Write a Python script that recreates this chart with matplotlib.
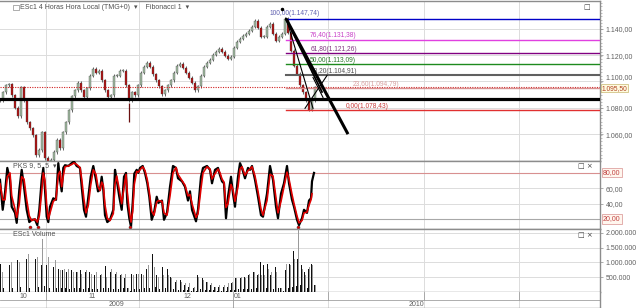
import numpy as np
import matplotlib as mpl
import matplotlib.pyplot as plt
from matplotlib.patches import Rectangle

mpl.rcParams['font.family'] = ['Liberation Sans', 'DejaVu Sans']
mpl.rcParams['font.size'] = 5

# ESc1 4h closes, one bar every 3 chart units
closes = [1085.7, 1091.7, 1097.0, 1097.7, 1089.4, 1080.0, 1073.6, 1095.5, 1085.7, 1069.1,
          1064.5, 1059.2, 1044.2, 1047.9, 1061.5, 1041.9, 1038.1, 1040.4, 1046.4, 1055.5,
          1049.4, 1061.5, 1069.1, 1078.1, 1088.7, 1093.2, 1099.2, 1093.2, 1087.9, 1094.7,
          1104.5, 1109.8, 1106.8, 1108.3, 1100.8, 1093.2, 1087.9, 1089.4, 1104.5, 1104.5,
          1108.3, 1108.3, 1097.0, 1085.7, 1091.7, 1089.4, 1097.0, 1106.8, 1111.3, 1114.3,
          1111.3, 1105.3, 1100.8, 1096.2, 1090.2, 1093.2, 1097.0, 1100.8, 1106.8, 1112.1,
          1113.6, 1110.6, 1106.8, 1103.0, 1099.2, 1093.2, 1096.2, 1104.5, 1111.3, 1114.3,
          1116.6, 1120.4, 1122.6, 1124.9, 1122.6, 1119.6, 1117.4, 1118.9, 1125.7, 1130.2,
          1132.5, 1134.7, 1136.2, 1138.5, 1141.5, 1146.0, 1140.8, 1134.0, 1134.0, 1141.5,
          1143.8, 1136.2, 1131.0, 1134.0, 1136.2, 1147.7, 1137.0, 1123.4, 1112.1, 1106.0,
          1097.0, 1091.7, 1085.7, 1078.4, 1085.7, 1095.5]
spike_t = [129]
spike_low = [1069.0]

fib_pct = ['100,00', '76,40', '61,80', '50,00', '38,20', '23,60', '0,00']
fib_lvl = [1147.74, 1131.38, 1121.26, 1113.09, 1104.91, 1094.79, 1078.43]
support = 1086.8
last_price = 1095.50

# stochastic (PKS 9,5,5): %K black, %D red
rsi_t = [0, 2.7, 5, 7.3, 10, 11.7, 15, 16.7, 19.3, 21.7, 24, 26.7, 29.3, 31.7, 35, 37.3, 39.3,
         41.7, 43.3, 45, 46.7, 48.3, 50, 53.3, 56, 58.3, 60, 61.7, 63.3, 65, 68.3, 71.7, 74,
         76.7, 80, 81.7, 84, 86, 88.3, 90.7, 93.3, 96, 98, 100, 101.7, 103.3, 105, 107.3, 110,
         113.3, 115, 116.7, 119.3, 121.7, 124, 126, 127.3, 129.3, 131, 132.7, 134.3, 136.7,
         138.3, 140, 142.7, 145, 147.3, 149.3, 151.7, 154, 156.7, 158.3, 162, 164, 167, 170,
         173, 176, 178, 182, 185, 188, 190, 192, 196, 198, 201, 203, 207, 210, 212, 215, 218,
         220, 222, 224, 226, 228, 231, 233, 235, 238, 240, 242, 245, 248, 250, 252, 255, 258,
         261, 263, 267, 270, 273, 276, 278, 281, 284, 287, 289, 292, 294, 297, 299, 302, 304,
         307, 309, 311, 312, 314]
rsi_k = [71, 32, 54, 86.5, 71, 36, 28, 15, 58, 84, 62, 32, 16, 19, 19.5, 12, 32,
         71, 86.5, 58, 23, 16, 36, 47, 45, 92.7, 71, 56, 86.5, 90, 89, 92.7, 94.8,
         89, 86.5, 62, 32, 23, 49, 75, 89, 71, 56, 58, 75, 58, 25, 16, 19,
         32, 84, 71, 49, 32, 75, 80, 41, 21, 10, 41, 79, 84,
         80, 86.5, 89, 80, 66.5, 49, 19, 28, 49, 41, 44, 19, 28, 62,
         89, 86.5, 73, 69, 62, 44, 56, 32, 17, 32, 75, 86.5, 89, 84, 66.5, 84, 86.5,
         77, 69, 66.5, 21, 49, 75, 53, 36, 75, 92.7, 86.5, 73, 86.5, 84, 89, 71, 49,
         25, 23, 53, 89, 71, 36, 21, 53, 66.5, 89, 66.5, 45, 36, 19, 12, 21, 32,
         28, 44, 47, 69, 80]
rsi_d = [66, 45, 45, 75, 80, 50, 33, 22, 40, 75, 72, 45, 24, 18, 20, 16, 24,
         55, 80, 70, 38, 20, 28, 43, 46, 78, 82, 62, 76, 88, 89, 91, 93,
         91, 87, 72, 45, 28, 38, 64, 84, 78, 62, 57, 68, 64, 38, 21, 18,
         27, 65, 76, 58, 40, 60, 78, 55, 30, 16, 30, 65, 82,
         81, 84, 88, 83, 71, 55, 30, 25, 42, 44, 43, 28, 25, 50,
         80, 87, 78, 70, 64, 50, 52, 40, 22, 27, 60, 80, 88, 85, 72, 79, 85,
         80, 72, 68, 35, 40, 65, 58, 43, 62, 85, 88, 77, 83, 85, 88, 76, 56,
         33, 25, 44, 78, 76, 47, 28, 43, 62, 81, 72, 52, 40, 24, 15, 18, 28,
         29, 38, 45, 53]

# volume per session (millions): main bar, second bar, overnight bar
vol_t = [0.7, 9.3, 17.7, 26.7, 35.7, 41, 46.7, 53.3, 58.3, 62.7, 66.7, 71.7, 76, 80, 85,
         89.3, 94.3, 100, 105, 110, 115, 120, 124, 127, 131.7, 136.7, 141.7, 146.7, 152.7,
         156.7, 162, 167, 170, 175, 180, 184, 188, 193, 197, 202, 206, 210, 214, 218, 223,
         227, 231, 235, 240, 244, 248, 253, 257, 260, 263, 267, 270, 275, 280, 285, 289,
         293, 297, 301, 304, 308, 311, 314]
vol_dark = [0.96, 0.90, 1.07, 1.12, 1.12, 0.90, 0.90, 0.84, 0.79, 0.73, 0.68, 0.73, 0.68, 0.73,
            0.68, 0.68, 0.57, 0.57, 0.87, 0.68, 0.62, 0.57, 0.46, 0.12, 0.62, 0.60, 0.60, 0.79,
            1.29, 0.57, 0.84, 0.79, 0.51, 0.34, 0.40, 0.23, 0.18, 0.12, 0.57, 0.46, 0.34, 0.23,
            0.18, 0.18, 0.18, 0.18, 0.29, 0.46, 0.46, 0.51, 0.57, 0.68, 0.57, 1.01, 0.90, 0.96,
            0.57, 0.84, 0.12, 0.73, 0.96, 1.40, 1.12, 0.90, 0.68, 0.79, 0.96, 0.23]
vol_light = [0.68, 1.01, 1.01, 1.29, 1.18, 1.79, 1.18, 1.07, 0.73, 0.79, 0.79, 0.68, 0.68, 0.62,
             0.73, 0.62, 0.68, 0.62, 0.51, 0.79, 0.68, 0.62, 0.62, 0.12, 0.57, 0.62, 0.57, 0.90,
             0.84, 0.51, 0.57, 0.57, 0.46, 0.40, 0.34, 0.29, 0.29, 0.18, 0.51, 0.40, 0.34, 0.29,
             0.18, 0.23, 0.23, 0.29, 0.34, 0.46, 0.51, 0.46, 0.62, 0.68, 0.62, 0.57, 0.57, 0.79,
             0.68, 0.68, 0.12, 0.96, 0.90, 1.12, 2.20, 0.79, 0.57, 0.84, 0.90, 0.23]
vol_night = [0.15, 0.12, 0.18, 0.14, 0.16, 0.20, 0.15, 0.13, 0.12, 0.14, 0.11, 0.13, 0.12, 0.10,
             0.12, 0.11, 0.10, 0.12, 0.13, 0.11, 0.10, 0.12, 0.09, 0.05, 0.11, 0.10, 0.12, 0.14,
             0.16, 0.10, 0.12, 0.11, 0.09, 0.08, 0.07, 0.06, 0.05, 0.05, 0.09, 0.08, 0.07, 0.06,
             0.05, 0.05, 0.05, 0.06, 0.07, 0.09, 0.10, 0.10, 0.11, 0.12, 0.11, 0.14, 0.13, 0.14,
             0.11, 0.12, 0.05, 0.14, 0.16, 0.20, 0.22, 0.16, 0.13, 0.14, 0.15, 0.00]

month_lbl = ['10', '11', '12', '01']
year_lbl = ['2009', '2010']


def eu(v, dec=2):
    s = f"{v:,.{dec}f}"
    return s.replace(',', '#').replace('.', ',').replace('#', '.')


GRIDC = '#dcdcdc'
FRAME = '#8c8c8c'
LBL = '#606060'
vgrid = [46, 139, 233, 328, 424, 519]

fig = plt.figure(figsize=(6.4, 3.08), dpi=100)
W = 600 / 640
ax_p = fig.add_axes([0, 1 - 161 / 308, W, 160 / 308])
ax_r = fig.add_axes([0, 1 - 229 / 308, W, 68 / 308])
ax_v = fig.add_axes([0, 1 - 292 / 308, W, 63 / 308])
ax_d = fig.add_axes([0, 0, W, 16 / 308])

for ax in (ax_p, ax_r, ax_v, ax_d):
    ax.set_xlim(0, 600)
    ax.spines['left'].set_visible(False)
    for s in ('top', 'right', 'bottom'):
        ax.spines[s].set_color(FRAME)
        ax.spines[s].set_linewidth(1.0)
    ax.tick_params(axis='x', bottom=False, labelbottom=False)
    ax.yaxis.tick_right()
    ax.tick_params(axis='y', right=True, left=False, length=2.5, width=0.5, color=FRAME,
                   labelsize=5, labelcolor=LBL, pad=1.5)
    for xv in vgrid:
        ax.axvline(xv, color=GRIDC, lw=0.7, zorder=0)

# ---- price panel
ax_p.set_ylim(1039.6, 1161.1)
ax_p.set_yticks([1060, 1080, 1100, 1120, 1140])
ax_p.set_yticklabels([eu(v) for v in [1060, 1080, 1100, 1120, 1140]])
ax_p.set_yticks(np.arange(1042, 1161, 2.5), minor=True)
ax_p.tick_params(axis='y', which='minor', right=True, length=1.2, width=0.4, color=FRAME)
for lab in ax_p.get_yticklabels():
    if lab.get_text() == '1.100,00':
        lab.set_va('bottom')
for yv in [1060, 1080, 1100, 1120, 1140]:
    ax_p.axhline(yv, color=GRIDC, lw=0.7, zorder=0)

tt = np.arange(len(closes)) * 3
opens = [closes[0]] + closes[:-1]
for x, o, c in zip(tt, opens, closes):
    lo, hi = min(o, c), max(o, c)
    ax_p.vlines(x, lo - 1.2, hi + 1.2, color='#2a2a2a', lw=0.5, zorder=3)
    col = '#a3bca3' if c >= o else '#b01010'
    ax_p.bar(x, max(hi - lo, 0.4), bottom=lo, width=1.6, color=col,
             edgecolor='#404040', lw=0.25, zorder=4)
for x, lo in zip(spike_t, spike_low):
    ax_p.vlines(x, lo, lo + 15, color='#6a1010', lw=0.9, zorder=4)

ax_p.axhline(support, color='black', lw=2.3, zorder=5)
ax_p.axhline(last_price, color='#d02020', lw=0.8, ls=(0, (1, 1.2)), zorder=5)

fib_col = ['#0000c8', '#e040e0', '#800080', '#1e8a1e', '#606060', '#d89090', '#e03030']
fib_txt = ['#6060b0', '#c840c8', '#803080', '#2a7a2a', '#505050', '#d8a0a0', '#c83c3c']
fib_lx = [270, 310, 311, 310, 311, 353, 346]
fib_dy = [3.6, 3.3, 3.0, 2.7, 2.6, 2.9, 2.7]
for lv, pct, c, tc, lx, dy in zip(fib_lvl, fib_pct, fib_col, fib_txt, fib_lx, fib_dy):
    ax_p.plot([286, 600], [lv, lv], color=c, lw=1.5 if pct == '38,20' else 1.0, zorder=5)
    ax_p.text(lx, lv + dy, f"{pct}({eu(lv)})", color=tc, fontsize=4.8,
              ha='left', va='center', zorder=6)

# trend lines
ax_p.plot([286, 348], [1147.7, 1060.0], color='black', lw=2.2, zorder=6, solid_capstyle='butt')
ax_p.plot([286, 322], [1147.7, 1092.0], color='black', lw=1.3, zorder=6)
ax_p.plot([287, 313], [1146.0, 1079.6], color='black', lw=0.8, zorder=6)
ax_p.plot([305, 327], [1079.6, 1104.5], color='black', lw=0.8, zorder=6)
ax_p.plot([313, 323], [1103.0, 1087.9], color='black', lw=0.8, zorder=6)
ax_p.plot([282], [1155], marker='.', color='black', ms=3, zorder=6)

ax_p.text(602, last_price - 0.6, eu(last_price), fontsize=4.8, color='#b04020', ha='left',
          va='center', bbox=dict(boxstyle='square,pad=0.1', fc='#fffbe0', ec='#c8b870', lw=0.5),
          clip_on=False, zorder=10)

ax_p.text(20, 1156.3, 'ESc1 4 Horas Hora Local (TMG+0)  \u25be    Fibonacci 1  \u25be',
          fontsize=5, color='#505050', ha='left', va='center')
ax_p.add_patch(Rectangle((13, 1154.6), 6, 3.2, fill=False, ec='#707070', lw=0.4))
ax_p.text(587, 1156.3, '\u25a1', fontsize=5, color='#404040', ha='center', va='center',
          family='DejaVu Sans')

# ---- stochastic panel
ax_r.set_ylim(7, 95.5)
ax_r.set_yticks([40, 60])
ax_r.set_yticklabels(['40,00', '60,00'])
for yv in [40, 60]:
    ax_r.axhline(yv, color=GRIDC, lw=0.7, zorder=0)
ax_r.axhline(80, color='#d89090', lw=0.8, zorder=1)
ax_r.axhline(20, color='#a8a8a8', lw=0.8, zorder=1)
ax_r.plot(rsi_t, rsi_k, color='black', lw=1.6, zorder=3)
ax_r.plot(rsi_t[:len(rsi_d)], rsi_d, color='#e00000', lw=1.2, zorder=4)
for yv in [80, 20]:
    ax_r.text(603, yv, eu(yv), fontsize=5, color='#c04040', ha='left', va='center',
              bbox=dict(boxstyle='square,pad=0.15', fc='#fff6ee', ec='#d89090', lw=0.5),
              clip_on=False, zorder=10)
ax_r.text(13, 89.5, 'PKS 9, 5, 5  \u25be', fontsize=5, color='#505050', ha='left', va='center')
ax_r.text(585, 89.5, '\u25a1 \u00d7', fontsize=5, color='#404040', ha='center', va='center',
          family='DejaVu Sans')
for x in [30, 38, 130, 298]:
    ax_r.plot([x], [9.5], marker='o', ms=2.2, mfc='#e00000', mec='#303030', mew=0.3,
              zorder=8, clip_on=False)

# ---- volume panel
ax_v.set_ylim(0, 2.13)
vt = [0.5, 1.0, 1.5, 2.0]
ax_v.set_yticks(vt)
ax_v.set_yticklabels(['500.000', '1.000.000', '1.500.000', '2.000.000'])
for yv in vt:
    ax_v.axhline(yv, color=GRIDC, lw=0.7, zorder=0)
vtt = np.array(vol_t)
ax_v.bar(vtt, vol_dark, width=1.0, color='#101010', zorder=3)
ax_v.bar(vtt + 1.8, vol_light, width=1.0, color='#9a9a9a', zorder=3)
ax_v.bar(vtt + 3.2, vol_night, width=1.0, color='#101010', zorder=3)
ax_v.text(13, 1.94, 'ESc1 Volume', fontsize=5, color='#505050', ha='left', va='center')
ax_v.text(585, 1.94, '\u25a1 \u00d7', fontsize=5, color='#404040', ha='center', va='center',
          family='DejaVu Sans')

# ---- date rows
ax_d.set_ylim(0, 2)
ax_d.set_yticks([])
ax_d.spines['top'].set_visible(False)
ax_d.axhline(1, color='#a0a0a0', lw=0.6)
for xv in vgrid:
    ax_d.plot([xv, xv], [1, 2], color='#a0a0a0', lw=0.6)
ax_d.plot([233, 233], [0, 1], color='#a0a0a0', lw=0.6)
for lbl, xm in zip(month_lbl, [23, 92, 187, 238]):
    ax_d.text(xm, 1.5, lbl, fontsize=5, color=LBL, ha='center', va='center')
for lbl, xy in zip(year_lbl, [116, 416]):
    ax_d.text(xy, 0.5, lbl, fontsize=5, color=LBL, ha='center', va='center')

fig.savefig('out.png', dpi=100)
